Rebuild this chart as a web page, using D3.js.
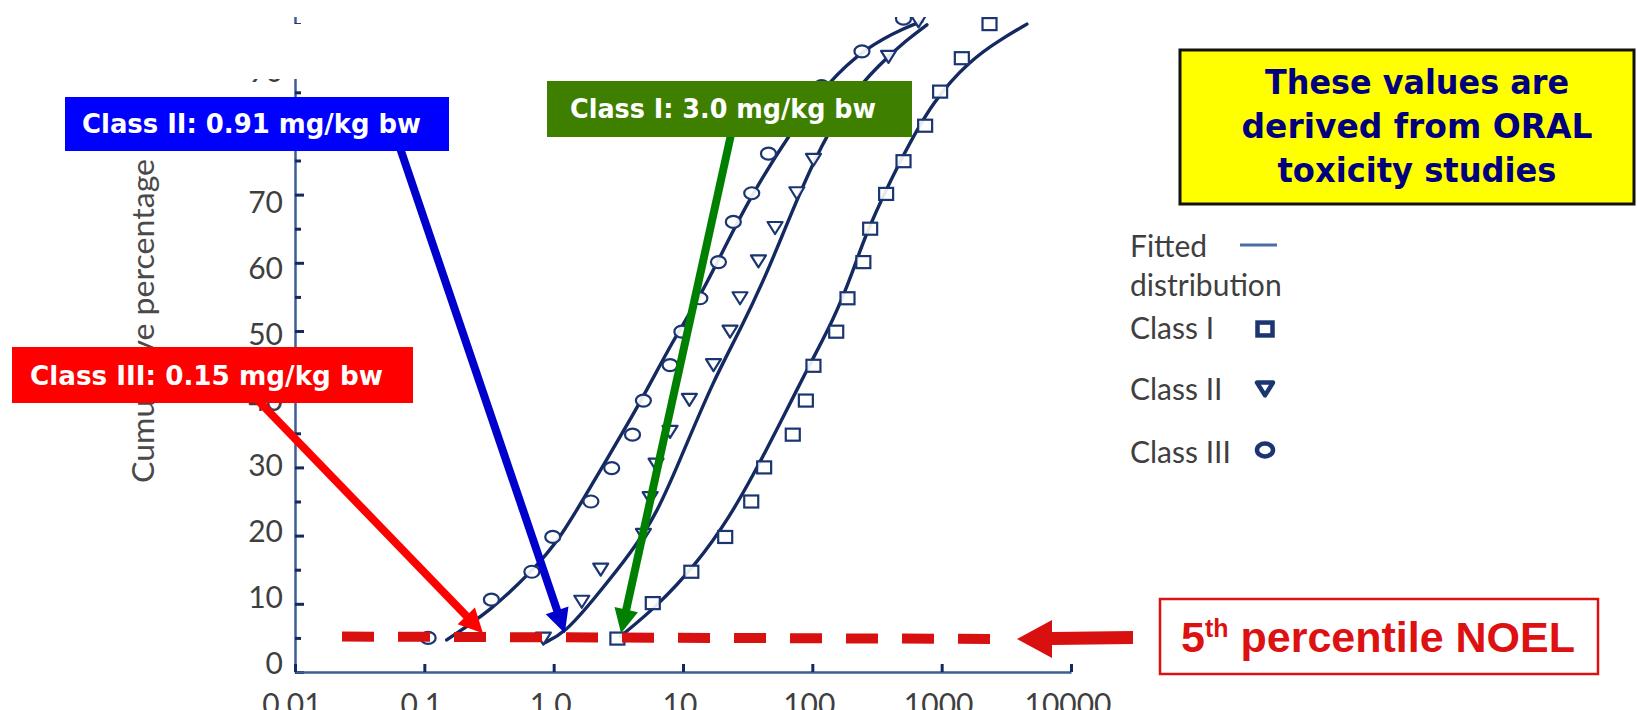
<!DOCTYPE html>
<html><head><meta charset="utf-8">
<script src="https://cdn.jsdelivr.net/npm/d3@7"></script>
<style>body{margin:0;background:#fff;}svg{display:block;}</style>
</head><body>
<svg id="c" width="1637" height="710"></svg>
<script>
// ---------- data ----------
const xTicks = [0.01, 0.1, 1, 10, 100, 1000, 10000];
const xTickLabels = ["0.01", "0.1", "1.0", "10", "100", "1000", "10000"];
const yTicks = [0, 10, 20, 30, 40, 50, 60, 70, 80, 90, 100];
const yMinorTicks = [5, 15, 25, 35, 45, 55, 65, 75, 85, 95];
const yTickLabels = ["0", "10", "20", "30", "40", "50", "60", "70", "80", "90"];

// observed points: dose (mg/kg bw) and cumulative percentage
const class1Dose = [3.11, 5.84, 11.6, 21.2, 33.7, 42.4, 70.6, 89.1, 102, 153, 187, 248, 280, 372, 507, 745, 973, 1432, 2344];
const class1Pct  = [4.9, 10.1, 14.7, 19.8, 25.0, 30.0, 34.8, 39.8, 44.9, 49.9, 54.8, 60.1, 65.0, 70.1, 74.9, 80.1, 85.1, 90.0, 95.0];
const class2Dose = [0.832, 1.65, 2.31, 4.94, 5.57, 6.19, 7.94, 11.2, 17.2, 23.1, 27.6, 38.3, 51.5, 75.9, 102, 388, 662];
const class2Pct  = [4.9, 10.3, 15.0, 20.1, 25.5, 30.4, 35.2, 39.9, 45.0, 49.9, 54.8, 60.2, 65.1, 70.2, 75.1, 90.2, 95.4];
const class3Dose = [0.107, 0.33, 0.678, 0.984, 1.94, 2.81, 4.07, 4.94, 7.94, 9.80, 13.5, 18.8, 24.5, 34.0, 45.8, 118, 242, 507];
const class3Pct  = [5.0, 10.6, 14.7, 19.8, 25.0, 29.9, 34.8, 39.8, 45.0, 49.9, 54.8, 60.1, 66.0, 70.2, 76.0, 85.9, 91.0, 95.8];

// fitted distributions (traced)
const fit1Dose = [3.27, 6.27, 12.8, 23.1, 36.1, 53.1, 90.6, 146, 208, 256, 478, 865, 1660, 2830, 4560];
const fit1Pct  = [5.2, 9.6, 15.9, 22.8, 29.4, 35.5, 44.3, 51.6, 58.9, 64.1, 75.1, 83.9, 89.7, 92.7, 95.0];
const fit2Dose = [0.832, 1.22, 2.03, 4.14, 6.27, 9.16, 17.2, 27.7, 44.5, 56.5, 102, 185, 334, 538, 769];
const fit2Pct  = [4.2, 5.7, 10.6, 17.9, 23.3, 30.4, 42.8, 50.1, 58.5, 63.3, 75.1, 83.9, 89.2, 92.7, 94.9];
const fit3Dose = [0.149, 0.33, 0.656, 1.12, 2.29, 4.66, 8.38, 13.6, 24.4, 37.2, 67.3, 129, 264, 538, 703];
const fit3Pct  = [4.7, 9.1, 14.5, 19.4, 29.6, 39.4, 48.7, 55.0, 64.8, 71.2, 79.0, 86.3, 91.7, 94.6, 95.4];

// 5th percentile reference line and arrow targets
const noelLineDose = [0.0231, 2371];
const noelLinePct = [5.2, 4.85];
const arrowTargetDose = [0.284, 1.22, 3.32];   // Class III, II, I
const arrowTargetPct = [5.7, 5.7, 5.7];

const legendLabels = ["Class I", "Class II", "Class III"];
const annotationTexts = ["Class III: 0.15 mg/kg bw", "Class II: 0.91 mg/kg bw", "Class I: 3.0 mg/kg bw"];
const noteLines = ["These values are", "derived from ORAL", "toxicity studies"];

// ---------- drawing ----------
const W = 1637, H = 710;
const svg = d3.select("#c");
const NAVY = "#13295f", MARK = "#1b3570", GREY = "#3f3f3f";

const x = d3.scaleLog().domain([0.01, 10000]).range([295, 1071]);
const y = d3.scaleLinear().domain([0, 100]).range([672, -10]);
const yLab = d3.scaleLinear().domain([0, 100]).range([662.7, 5.3]);

svg.append("defs").append("clipPath").attr("id", "clipTop")
  .append("rect").attr("x", 0).attr("y", 17).attr("width", W).attr("height", H - 17);

const plot = svg.append("g").attr("clip-path", "url(#clipTop)");

// y axis
const yAxis = d3.axisLeft(y).tickValues(yTicks).tickSize(-9).tickSizeOuter(0).tickFormat("");
const gy = plot.append("g").attr("transform", "translate(295,0)").call(yAxis);
gy.select(".domain").attr("stroke", "#3d5d94").attr("stroke-width", 2.5);
gy.selectAll(".tick line").attr("stroke", NAVY).attr("stroke-width", 3);
const yAxisMinor = d3.axisLeft(y).tickValues(yMinorTicks).tickSize(-6).tickSizeOuter(0).tickFormat("");
const gy2 = plot.append("g").attr("transform", "translate(295,0)").call(yAxisMinor);
gy2.select(".domain").remove();
gy2.selectAll(".tick line").attr("stroke", NAVY).attr("stroke-width", 3);

// y tick labels
plot.append("g").selectAll("text").data(yTickLabels).join("text")
  .attr("x", 283).attr("y", (d, i) => yLab(yTicks[i])).attr("dy", "0.36em")
  .attr("text-anchor", "end").attr("font-family", "Lato, sans-serif").attr("font-size", 30)
  .attr("fill", GREY).text(d => d);

// x axis
const xAxis = d3.axisBottom(x).tickValues(xTicks).tickSize(-8).tickSizeOuter(0).tickFormat("");
const gx = plot.append("g").attr("transform", "translate(0,672)").call(xAxis);
gx.select(".domain").attr("stroke", "#3d5d94").attr("stroke-width", 2.5);
gx.selectAll(".tick line").attr("stroke", NAVY).attr("stroke-width", 3);
plot.append("g").selectAll("text").data(xTickLabels).join("text")
  .attr("x", (d, i) => x(xTicks[i]) - 3).attr("y", 715)
  .attr("text-anchor", "middle").attr("font-family", "Lato, sans-serif").attr("font-size", 30)
  .attr("fill", GREY).text(d => d);

// y axis title
svg.append("text").attr("transform", "translate(154,321) rotate(-90)")
  .attr("text-anchor", "middle").attr("font-family", "Lato, sans-serif").attr("font-size", 31)
  .attr("textLength", 324).attr("lengthAdjust", "spacingAndGlyphs")
  .attr("fill", "#4a4a4a").text("Cumulative percentage");

// fitted lines
const line = d3.line().x(d => x(d[0])).y(d => y(d[1])).curve(d3.curveBasis);
const fits = [[fit1Dose, fit1Pct], [fit2Dose, fit2Pct], [fit3Dose, fit3Pct]];
fits.forEach(([ds, ps]) => {
  plot.append("path").datum(ds.map((d, i) => [d, ps[i]])).attr("d", line)
    .attr("fill", "none").attr("stroke", NAVY).attr("stroke-width", 3.4)
    .attr("stroke-linecap", "round");
});

// markers
function square(g, cx, cy, s, sw) {
  g.append("rect").attr("x", cx - s / 2).attr("y", cy - s * 0.43).attr("width", s).attr("height", s * 0.86)
    .attr("fill", "white").attr("fill-opacity", 0.9).attr("stroke", MARK).attr("stroke-width", sw);
}
function tri(g, cx, cy, s, sw) {
  const h = s * 0.8;
  g.append("path").attr("d", `M${cx - s / 2},${cy - h / 2}L${cx + s / 2},${cy - h / 2}L${cx},${cy + h / 2}Z`)
    .attr("fill", "white").attr("fill-opacity", 0.9).attr("stroke", MARK).attr("stroke-width", sw)
    .attr("stroke-linejoin", "round");
}
function circ(g, cx, cy, s, sw) {
  g.append("ellipse").attr("cx", cx).attr("cy", cy).attr("rx", s / 2).attr("ry", s * 0.4)
    .attr("fill", "white").attr("fill-opacity", 0.9).attr("stroke", MARK).attr("stroke-width", sw);
}
const gm = plot.append("g");
class1Dose.forEach((d, i) => square(gm, x(d), y(class1Pct[i]), 14, 2.2));
class2Dose.forEach((d, i) => tri(gm, x(d), y(class2Pct[i]), 15, 2.2));
class3Dose.forEach((d, i) => circ(gm, x(d), y(class3Pct[i]), 15, 2.2));

// white patch hiding part of the axis (as in the source)
svg.append("rect").attr("x", 200).attr("y", 24).attr("width", 340).attr("height", 55).attr("fill", "white");

// legend
const lg = svg.append("g").attr("font-family", "Lato, sans-serif").attr("font-size", 30).attr("fill", GREY);
lg.append("text").attr("x", 1130).attr("y", 257).text("Fitted");
lg.append("text").attr("x", 1130).attr("y", 296).text("distribution");
lg.append("line").attr("x1", 1240).attr("x2", 1277).attr("y1", 245).attr("y2", 245)
  .attr("stroke", "#4a6ea3").attr("stroke-width", 3);
const legY = [339, 400, 463];
const legMarkY = [329, 389, 450];
legendLabels.forEach((t, i) => lg.append("text").attr("x", 1130).attr("y", legY[i]).text(t));
square(lg, 1265, legMarkY[0], 15, 4.5);
tri(lg, 1265, legMarkY[1], 16, 4.5);
circ(lg, 1265, legMarkY[2], 16, 4.5);

// dashed 5th percentile line
svg.append("line")
  .attr("x1", x(noelLineDose[0])).attr("y1", y(noelLinePct[0]))
  .attr("x2", x(noelLineDose[1])).attr("y2", y(noelLinePct[1]))
  .attr("stroke", "#d91010").attr("stroke-width", 10).attr("stroke-dasharray", "32 24");

// arrows
function arrow(x1, y1, x2, y2, color, w, hl, hw) {
  const dx = x2 - x1, dy = y2 - y1, L = Math.hypot(dx, dy), ux = dx / L, uy = dy / L;
  const bx = x2 - ux * hl, by = y2 - uy * hl;
  svg.append("line").attr("x1", x1).attr("y1", y1).attr("x2", bx + ux * 2).attr("y2", by + uy * 2)
    .attr("stroke", color).attr("stroke-width", w);
  svg.append("path").attr("d", `M${x2},${y2}L${bx - uy * hw},${by + ux * hw}L${bx + uy * hw},${by - ux * hw}Z`)
    .attr("fill", color);
}
const arrowStarts = [[250, 392], [399, 145], [732, 130]];
const arrowColors = ["#ff0000", "#0000cc", "#008000"];
arrowTargetDose.forEach((d, i) => {
  arrow(arrowStarts[i][0], arrowStarts[i][1], x(d), y(arrowTargetPct[i]), arrowColors[i], 8, 24, 12);
});

// annotation boxes
const boxes = [
  {x: 12, y: 347, w: 401, h: 56, fill: "#ff0000", tx: 30, ty: 385, tl: 353},
  {x: 65, y: 97, w: 384, h: 54, fill: "#0000ff", tx: 82, ty: 133, tl: 339},
  {x: 547, y: 81, w: 365, h: 56, fill: "#3f7f00", tx: 570, ty: 118, tl: 306}
];
boxes.forEach((b, i) => {
  svg.append("rect").attr("x", b.x).attr("y", b.y).attr("width", b.w).attr("height", b.h).attr("fill", b.fill);
  svg.append("text").attr("x", b.tx).attr("y", b.ty).attr("font-family", "DejaVu Sans, sans-serif")
    .attr("font-weight", "bold").attr("font-size", 26).attr("fill", "white")
    .attr("textLength", b.tl).attr("lengthAdjust", "spacingAndGlyphs").text(annotationTexts[i]);
});

// yellow note
svg.append("rect").attr("x", 1180).attr("y", 50).attr("width", 454).attr("height", 154)
  .attr("fill", "#ffff00").attr("stroke", "#111").attr("stroke-width", 3);
const noteBase = [94, 138, 182];
const noteLen = [304, 351, 279];
noteLines.forEach((t, i) => {
  svg.append("text").attr("x", 1417).attr("y", noteBase[i]).attr("text-anchor", "middle")
    .attr("font-family", "DejaVu Sans, sans-serif").attr("font-weight", "bold").attr("font-size", 33)
    .attr("fill", "#00007f").attr("textLength", noteLen[i]).attr("lengthAdjust", "spacingAndGlyphs").text(t);
});

// big red arrow to NOEL label
svg.append("path")
  .attr("d", "M1017,639L1052,620L1052,632L1133,631L1133,644L1052,645L1052,658Z")
  .attr("fill", "#d91010");

// NOEL label
svg.append("rect").attr("x", 1160).attr("y", 599).attr("width", 438).attr("height", 75)
  .attr("fill", "white").attr("stroke", "#dd1111").attr("stroke-width", 2.5);
const nt = svg.append("text").attr("x", 1181).attr("y", 652)
  .attr("font-family", "Liberation Sans, Arial, sans-serif").attr("font-weight", "bold")
  .attr("font-size", 43).attr("fill", "#dd1111");
nt.append("tspan").text("5");
nt.append("tspan").attr("font-size", 25).attr("dy", -15).text("th");
nt.append("tspan").attr("dy", 15).text(" percentile NOEL");
</script>
</body></html>
